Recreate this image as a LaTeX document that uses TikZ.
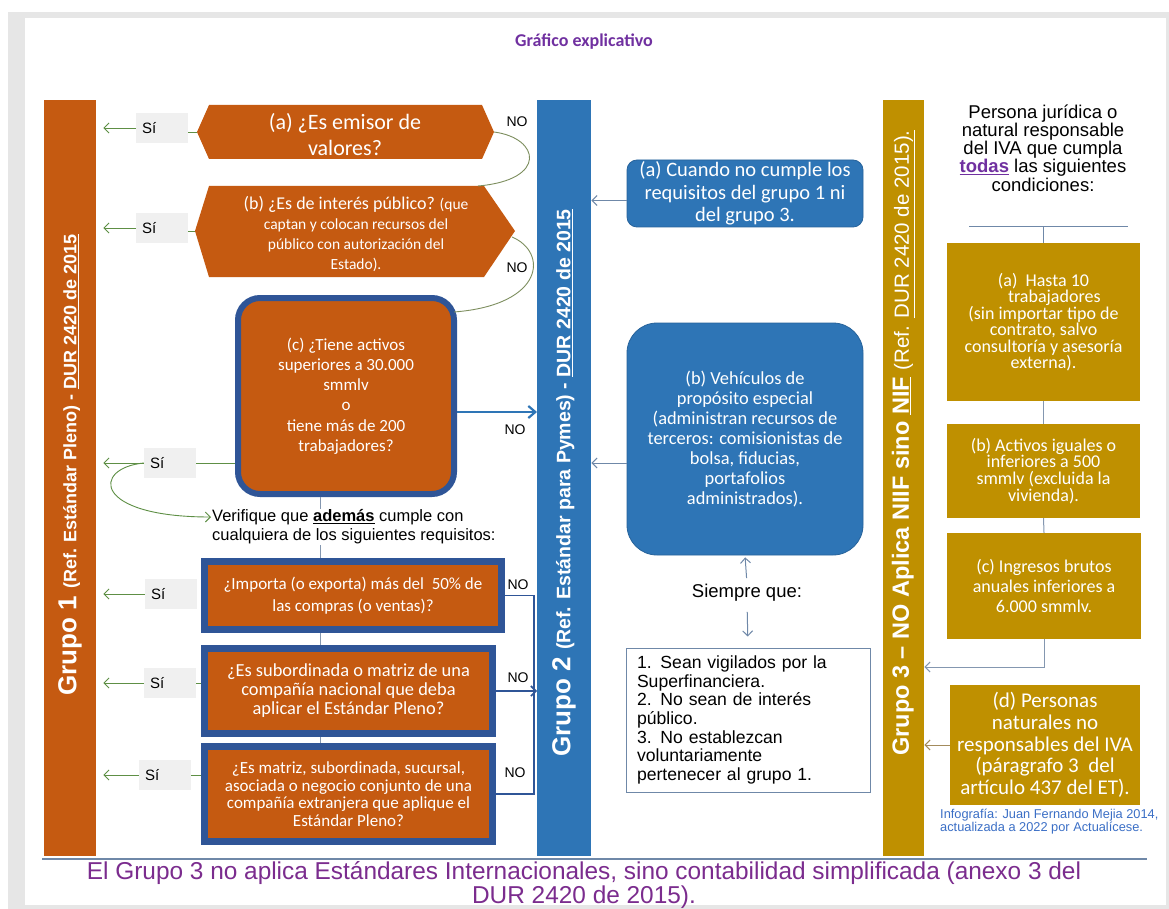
\documentclass[tikz,border=0pt]{standalone}
\usepackage{fontspec}
\setmainfont{Carlito}
\newfontfamily\arial{Liberation Sans}
\usetikzlibrary{arrows.meta,calc}
\definecolor{gOrange}{HTML}{C55A11}
\definecolor{gBlue}{HTML}{2E75B6}
\definecolor{gDark}{HTML}{2F5597}
\definecolor{gGold}{HTML}{BF9000}
\definecolor{gPurple}{HTML}{7030A0}
\definecolor{bPurple}{HTML}{7B2C8E}
\definecolor{gGreen}{HTML}{5E8F45}
\definecolor{gLine}{HTML}{6F88A8}
\definecolor{siGray}{HTML}{F0F0F0}
\definecolor{frameGray}{HTML}{E6E6E6}
\definecolor{curveCol}{HTML}{7D8E5E}
\definecolor{linkGray}{HTML}{8497B0}
\definecolor{tanArrow}{HTML}{A38B5C}
\definecolor{creditBlue}{HTML}{3B6FC6}
\newcommand{\fs}[2]{\fontsize{#1}{#2}\selectfont}
\begin{document}
\begin{tikzpicture}[x=1pt,y=-1pt,
  sibox/.style={fill=siGray, inner xsep=6, inner ysep=0, minimum height=30, text width=40, align=left, font=\arial\fs{15}{18}},
  siarrow/.style={draw=gGreen, line width=0.9, -{Straight Barb[length=5,width=10]}, shorten >=7},
  silink/.style={draw=gGreen, line width=0.9},
  loopline/.style={draw=curveCol, line width=0.9},
  nolabel/.style={font=\arial\fs{14}{16}, inner sep=0},
  qbox/.style={fill=gOrange, draw=gDark, line width=7, inner sep=0, text=white, align=center},
  linkv/.style={draw=linkGray, line width=1},
  bluearrow/.style={draw=gBlue, line width=2.2, -{Straight Barb[length=7,width=12]}},
  bracketline/.style={draw=gDark, line width=1.3},
  midbox/.style={fill=gBlue, draw=gBlue!85!black, line width=0.8, text=white, inner sep=0, align=center},
  midarrow/.style={draw=gLine, line width=1, -{Straight Barb[length=5,width=10]}},
  goldbox/.style={fill=gGold, text=white, inner sep=0, align=center},
  bartxt/.style={rotate=90, text=white, inner sep=0}
]
\useasboundingbox (0,0) rectangle (1169,909);
% frame
\fill[frameGray] (8,12) rectangle (1169,909);
\fill[white] (25,18) rectangle (1166,905);

% title
\node[font=\bfseries\fs{18}{20}, text=gPurple] (title) at (584,42) {Gráfico explicativo};

% group bars
\node[fill=gOrange, inner sep=0, anchor=north west, minimum width=52, minimum height=756] (bar1) at (44,100) {};
\node[fill=gBlue, inner sep=0, anchor=north west, minimum width=54, minimum height=756] (bar2) at (537,100) {};
\node[fill=gGold, inner sep=0, anchor=north west, minimum width=41, minimum height=756] (bar3) at (883,100) {};

\node[bartxt] (g1txt) at (70,465) {\arial\bfseries\fs{26}{26}Grupo 1 \fs{18}{18}(Ref. Estándar Pleno) - \underline{DUR 2420 de 2015}};
\node[bartxt] (g2txt) at (564,483) {\arial\bfseries\fs{26}{26}Grupo 2 \fs{19.5}{19.5}(Ref. Estándar para Pymes) - \underline{DUR 2420 de 2015}};
\node[bartxt] (g3txt) at (903.5,443) {\arial\bfseries\fs{23.5}{23.5}Grupo 3 – NO Aplica NIIF sino \underline{NIF} \mdseries\fs{20.5}{20.5}(Ref. \underline{DUR 2420 de 2015).}};

% bottom line and text
\draw[gLine, line width=1.2] (42,859) -- (1147,859);
\node[font=\arial\fs{24.4}{24}, text=bPurple, align=center] (bottom) at (584,885) {El Grupo 3 no aplica Estándares Internacionales, sino contabilidad simplificada (anexo 3 del\\DUR 2420 de 2015).};

% ---------- hexagon (a)
\coordinate (haW) at (197,132); \coordinate (haNW) at (209,105); \coordinate (haNE) at (482,105);
\coordinate (haE) at (494,132); \coordinate (haSE) at (482,159); \coordinate (haSW) at (209,159);
\fill[gOrange] (haW) -- (haNW) -- (haNE) -- (haE) -- (haSE) -- (haSW) -- cycle;
\node[text=white, align=center, font=\fs{22}{26}, inner sep=0] (hexa) at (345,135) {(a) ¿Es emisor de\\valores?};

% ---------- hexagon (b)
\coordinate (hbW) at (195,231); \coordinate (hbNW) at (209,186); \coordinate (hbNE) at (484,186);
\coordinate (hbE) at (515,231); \coordinate (hbSE) at (484,277); \coordinate (hbSW) at (209,277);
\fill[gOrange] (hbW) -- (hbNW) -- (hbNE) -- (hbE) -- (hbSE) -- (hbSW) -- cycle;
\node[text=white, align=center, font=\fs{15.5}{20}, inner sep=0] (hexb) at (356,234) {{\fs{18}{20}(b) ¿Es de interés público?} (que\\captan y colocan recursos del\\público con autorización del\\Estado).};

% ---------- box (c)
\node[qbox, line width=6, rounded corners=22, minimum width=216, minimum height=196, font=\fs{17}{20.3}] (boxc) at (346,396) {(c) ¿Tiene activos\\superiores a 30.000\\smmlv\\o\\tiene más de 200\\trabajadores?};

% ---------- verifique text
\node[fill=white, inner sep=1, align=left, anchor=west, font=\arial\fs{16.5}{19}] (verif) at (211,527) {Verifique que \underline{\textbf{además}} cumple con\\cualquiera de los siguientes requisitos:};

% ---------- requirement boxes
\node[qbox, minimum width=297, minimum height=68, font=\fs{17}{21.5}] (req1) at (353,595.5) {¿Importa (o exporta) más del\ \ 50\% de\\las compras (o ventas)?};
\node[qbox, minimum width=288, minimum height=85, font=\fs{18.4}{19}] (req2) at (348.5,691) {¿Es subordinada o matriz de una\\compañía nacional que deba\\aplicar el Estándar Pleno?};
\node[qbox, minimum width=288, minimum height=95, font=\fs{17}{17.5}] (req3) at (348.5,794) {¿Es matriz, subordinada, sucursal,\\asociada o negocio conjunto de una\\compañía extranjera que aplique el\\Estándar Pleno?};

% ---------- Sí boxes
\node[sibox] (sia) at (162,128) {Sí};
\node[sibox] (sib) at (162,228) {Sí};
\node[sibox] (sic) at (170,463) {Sí};
\node[sibox] (si1) at (171,594) {Sí};
\node[sibox] (si2) at (170,683) {Sí};
\node[sibox] (si3) at (165,775) {Sí};

\foreach \s in {sia,sib,sic,si1,si2,si3}{
  \draw[siarrow] (\s.west) -- (\s.west -| bar1.east);
}
\draw[silink] (sia.east |- haW) -- (haW);
\draw[silink] (sib.east |- hbW) -- (hbW);
\draw[silink] (sic.east) -- (sic.east -| boxc.west);
\draw[silink] (si2.east) -- (si2.east -| req2.west);
\draw[silink] (si3.east) -- (si3.east -| req3.west);
% curved Sí (c) to verifique
\draw[silink, -{Straight Barb[length=5,width=10]}] (sic.west) .. controls (92,468) and (92,517) .. (verif.west |- 0,517);

% ---------- NO loops
\coordinate (hbT) at (478,186);
\draw[loopline] (haE) .. controls (540,138) and (548,180) .. (hbT);
\coordinate (hbR) at (512,237);
\coordinate (cTR) at (454,312);
\draw[loopline] (hbR) .. controls (548,252) and (545,305) .. (cTR);

% NO labels
\node[nolabel] (noa) at (517,122) {NO};
\node[nolabel] (nob) at (517,268) {NO};
\node[nolabel] (noc) at (515,430) {NO};
\node[nolabel] (no1) at (518,585) {NO};
\node[nolabel] (no2) at (518,678) {NO};
\node[nolabel] (no3) at (515,773) {NO};

% arrow c -> grupo 2
\coordinate (cOut) at ($(boxc.east)+(0,16)$);
\draw[bluearrow] (cOut) -- (cOut -| bar2.west);

% vertical links
\coordinate (vx) at (320,0);
\draw[linkv] (boxc.south -| vx) -- (verif.north -| vx);
\draw[linkv] (verif.south -| vx) -- (req1.north -| vx);
\draw[linkv] (req1.south -| vx) -- (req2.north -| vx);
\draw[linkv] (req2.south -| vx) -- (req3.north -| vx);

% bracket
\coordinate (bx) at (534,0);
\draw[bracketline] (req1.east) -- (req1.east -| bx) -- (req3.east -| bx) -- (req3.east);
\draw[bracketline, line width=1.6, -{Straight Barb[length=5,width=10]}] (req2.east) -- (req2.east -| bar2.west);

% ---------- middle column
\node[midbox, rounded corners=10, minimum width=236, minimum height=67, font=\fs{20.5}{22.5}] (cuando) at (745,193.5) {(a) Cuando no cumple los\\requisitos del grupo 1 ni\\del grupo 3.};
\node[midbox, rounded corners=30, minimum width=236, minimum height=232, font=\fs{18.4}{20}] (vehic) at (745,439) {(b) Vehículos de\\propósito especial\\(administran recursos de\\terceros: comisionistas de\\bolsa, fiducias,\\portafolios\\administrados).};
\coordinate (ca) at ($(cuando.west)+(0,7)$);
\draw[midarrow] (ca) -- (ca -| bar2.east);
\coordinate (vb) at ($(vehic.west)+(0,24)$);
\draw[midarrow] (vb) -- (vb -| bar2.east);

\node[font=\arial\fs{18.5}{20}, inner sep=0] (siempre) at (747,593) {Siempre que:};
\node[draw=gLine, fill=white, line width=1, minimum height=144, text width=222, inner xsep=11, inner ysep=0, align=left, font=\arial\fs{17.6}{18.7}] (lista) at (748,720) {1. Sean vigilados por la\\Superfinanciera.\\2. No sean de interés\\público.\\3. No establezcan\\voluntariamente\\pertenecer al grupo 1.};
\draw[midarrow, shorten <=6, shorten >=2] (siempre.north) -- (vehic.south);
\draw[midarrow, shorten <=10, shorten >=11] (siempre.south) -- (lista.north);

% ---------- right column
\node[font=\arial\fs{18.5}{16}, align=center, inner sep=0] (persona) at (1043,148) {Persona jurídica o\\natural responsable\\del IVA que cumpla\\\textcolor{gPurple}{\underline{\textbf{todas}}} las siguientes\\condiciones:};
\coordinate (hlL) at (969,227); \coordinate (hlR) at (1128,227);
\draw[gLine, line width=1] (hlL) -- (hlR);

\node[goldbox, minimum width=193, minimum height=158, font=\fs{18}{16.2}] (golda) at (1043.5,322) {(a)\ \ Hasta 10\\\hspace*{1.2em}trabajadores\\(sin importar tipo de\\contrato, salvo\\consultoría y asesoría\\externa).};
\node[goldbox, minimum width=193, minimum height=94, font=\fs{18}{16.8}] (goldb) at (1043.5,471) {(b) Activos iguales o\\inferiores a 500\\smmlv (excluida la\\vivienda).};
\node[goldbox, minimum width=194, minimum height=106, font=\fs{18}{20}] (goldc) at (1044,586) {(c) Ingresos brutos\\anuales inferiores a\\6.000 smmlv.};
\node[goldbox, minimum width=190, minimum height=120, font=\fs{21}{21.7}] (goldd) at (1045,745) {(d) Personas\\naturales no\\responsables del IVA\\(páragrafo 3\ \ del\\artículo 437 del ET).};

\draw[gLine, line width=1] (golda.north |- hlL) -- (golda.north);
\draw[linkGray, line width=1] (golda.south) -- (goldb.north);
\draw[linkGray, line width=1] (goldb.south) -- (goldc.north);
\coordinate (c3y) at (0,667);
\draw[linkGray, line width=1, -{Straight Barb[length=5,width=10]}] (goldc.south) -- (goldc.south |- c3y) -- (c3y -| bar3.east);
\draw[tanArrow, line width=1, -{Straight Barb[length=5,width=10]}] (goldd.west) -- (goldd.west -| bar3.east);

\node[anchor=north west, align=left, inner sep=0, text=creditBlue, font=\arial\fs{12.8}{11}] (credit) at (940,809) {Infografía: Juan Fernando Mejia 2014,\\actualizada a 2022 por Actualícese.};
\end{tikzpicture}
\end{document}
